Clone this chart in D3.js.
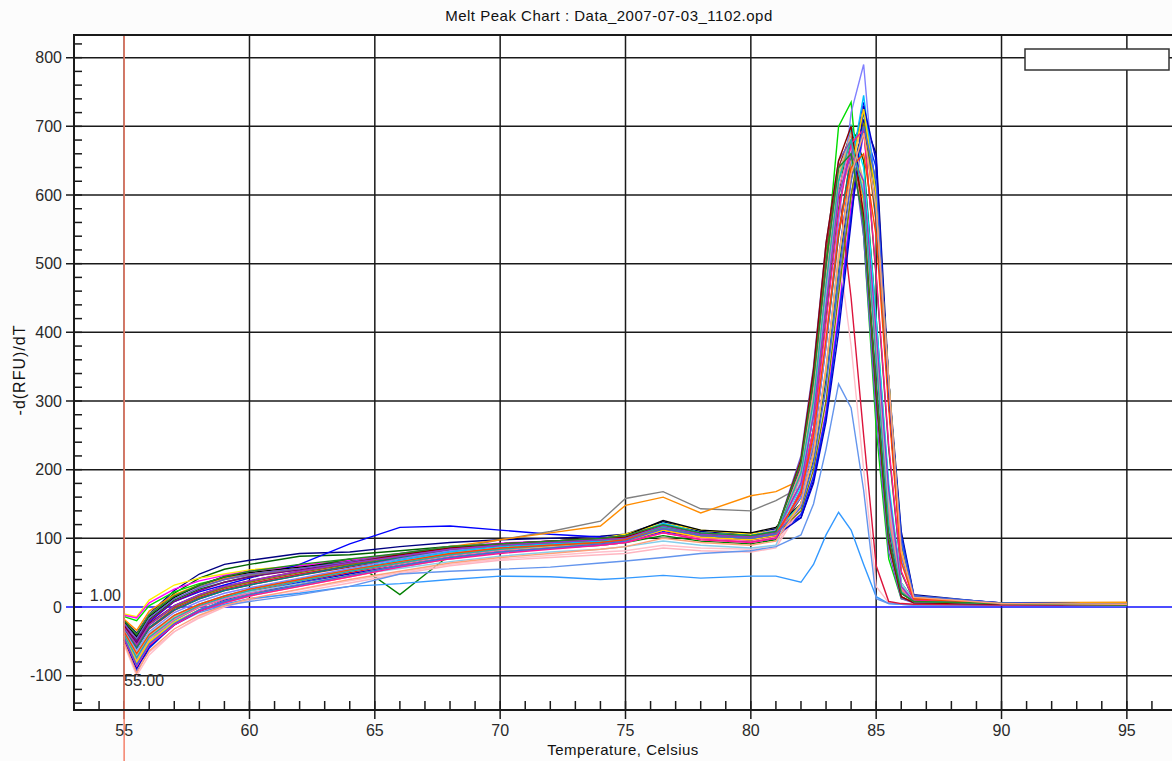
<!DOCTYPE html>
<html lang="en">
<head>
<meta charset="utf-8">
<script src="https://d3js.org/d3.v7.min.js"></script>
<style>
  body { margin: 0; background: #fcfcfc; font-family: "Liberation Sans", Arial, sans-serif; }
  .tick-label { font-size: 16px; fill: #2a2a2a; }
  .axis-title { font-size: 15px; fill: #111; letter-spacing: 0.5px; }
</style>
</head>
<body>
<div id="chart"></div>
<script>
  // temperatures (Celsius) at which each well was sampled
  var temps = [55, 55.5, 56, 57, 58, 59, 60, 62, 64, 66, 68, 70, 72, 74, 75, 76.5, 78, 80, 81,
               82, 82.5, 83, 83.5, 84, 84.5, 85, 85.5, 86, 86.5, 90, 95];

  var wellColors = ["#000080", "#006400", "#ffee00", "#ff00ff", "#00dd00", "#0000ff", "#008000",
                    "#808080", "#ff8c00", "#0033ff", "#00e5ff", "#ff0000", "#ffc0cb", "#ffb6c1",
                    "#ffa500", "#3399ff", "#6495ed", "#a52a2a", "#dc143c", "#000000", "#800080",
                    "#008080", "#fa8072", "#8080ff", "#00bfff", "#ff69b4", "#808000", "#0000cd",
                    "#d2b48c", "#6a5acd", "#87ceeb", "#8b0000", "#ffd700", "#ff1493", "#9932cc",
                    "#20b2aa", "#ff4500", "#4169e1", "#228b22", "#ffa07a"];

  // -d(RFU)/dT per well, one row per well, same order as temps
  var meltPeaks = [
    [-20,-38,-10,24,48,62,68,78,80,88,94,98,100,103,106,124,110,106,114, 130,185,280,420,580,710,660,330,110,18,5,4],
    [-25,-42,-12,20,42,55,62,74,76,82,88,92,95,98,102,120,106,102,110, 180,280,440,600,700,650,420,170,35,10,5,3],
    [-10,-14,10,32,42,48,54,60,68,76,86,92,96,100,106,122,112,106,112, 190,300,470,620,690,610,400,150,30,8,5,3],
    [-12,-16,6,26,38,46,52,60,68,78,88,93,96,98,102,116,102,98,106, 135,190,285,430,580,690,620,300,90,14,6,4],
    [-14,-20,2,22,34,42,47,54,64,76,86,90,92,96,100,118,106,100,108, 200,320,500,700,735,540,260,70,12,8,4,3],
    [-28,-52,-22,8,22,32,42,62,92,116,118,112,106,102,100,108,100,96,102, 150,225,345,510,640,735,610,330,80,15,5,4],
    [-30,-48,-18,10,26,36,44,56,70,18,76,82,86,90,94,104,96,92,98, 170,260,420,580,680,700,480,230,50,10,5,3],
    [-22,-40,-10,16,30,40,46,54,62,70,84,98,110,125,158,168,143,140,155, 175,230,330,470,600,690,620,300,90,16,6,5],
    [-18,-34,-6,18,32,42,48,56,66,76,88,98,108,118,148,160,137,162,168, 185,255,390,540,650,700,560,300,70,12,6,7],
    [-50,-95,-60,-25,-5,10,20,36,50,62,75,82,88,92,95,110,100,95,100, 135,190,280,420,570,700,640,320,105,16,6,4],
    [-45,-80,-50,-20,0,12,22,38,52,66,78,86,92,96,100,118,104,100,106, 175,280,450,620,700,640,420,180,35,8,5,3],
    [-40,-75,-45,-18,0,12,22,38,50,62,76,84,88,94,96,112,100,96,102, 160,240,385,545,655,725,560,305,70,12,5,3],
    [-55,-100,-70,-36,-14,2,12,25,38,50,62,70,75,80,82,90,86,84,90, 150,250,400,520,380,200,30,6,4,4,3,3],
    [-50,-90,-66,-36,-16,0,10,22,35,48,60,68,72,76,78,86,82,80,86, 145,215,330,490,620,730,600,330,80,15,5,4],
    [-45,-85,-55,-25,-5,8,18,32,46,60,72,82,88,96,100,118,106,102,110, 195,310,480,630,680,590,370,130,25,8,6,6],
    [-38,-72,-46,-22,-6,4,12,20,30,34,40,45,44,40,42,46,42,45,45, 36,62,105,138,112,62,15,5,4,3,3,2],
    [-42,-78,-52,-26,-8,2,8,18,30,48,52,55,58,64,67,72,78,82,88, 105,150,230,325,290,170,12,5,4,3,3,2],
    [-35,-60,-32,-5,12,24,32,46,58,70,82,90,94,98,100,114,104,100,110, 210,340,520,640,690,560,300,90,15,6,4,3],
    [-30,-58,-30,-2,14,26,34,48,60,72,84,90,95,98,101,116,104,100,108, 200,330,500,610,450,250,60,8,5,4,3,3],
    [-22,-44,-14,14,32,44,50,58,66,74,84,90,96,100,104,126,112,108,116, 150,215,335,495,625,700,610,330,85,15,5,4],
    [-26,-50,-20,8,24,36,44,54,66,76,86,92,96,100,104,120,108,104,110, 205,320,490,640,660,560,330,110,20,8,5,3],
    [-32,-60,-30,-4,12,24,32,46,60,72,84,90,94,98,102,118,106,102,108, 160,240,380,540,660,720,565,300,70,12,5,3],
    [-44,-82,-52,-24,-6,6,16,30,44,58,70,80,86,92,96,112,102,98,104, 200,315,470,600,650,580,360,130,25,8,5,3],
    [-34,-64,-36,-8,8,20,28,42,56,70,82,90,94,98,102,120,108,104,112, 160,240,380,560,720,790,580,300,70,12,5,3],
    [-36,-70,-40,-12,4,16,26,40,54,68,80,88,92,96,100,122,108,104,110, 150,220,340,500,640,745,600,330,85,15,5,4],
    [-40,-76,-46,-18,0,12,20,34,48,62,74,82,86,90,94,108,100,96,102, 190,300,460,610,670,600,380,140,28,8,5,3],
    [-30,-56,-26,0,16,28,36,50,62,74,84,90,94,98,100,116,104,100,106, 140,200,300,455,600,705,600,300,80,12,6,4],
    [-48,-90,-58,-26,-6,8,18,34,48,60,72,80,86,92,96,114,104,98,104, 130,180,270,400,560,730,650,300,95,15,6,4],
    [-38,-70,-42,-14,2,14,24,38,52,64,76,84,88,94,98,114,104,100,106, 200,310,480,630,690,620,390,150,30,9,5,3],
    [-24,-46,-16,12,28,40,48,56,66,76,86,92,96,100,104,118,106,102,108, 220,350,530,650,680,540,280,80,12,6,4,3],
    [-36,-66,-38,-12,4,14,22,34,46,56,66,74,80,84,88,96,90,86,90, 185,290,450,600,660,610,400,160,35,9,5,3],
    [-28,-54,-24,2,18,30,38,52,64,76,86,92,96,100,102,118,106,100,108, 215,345,530,650,700,570,310,95,15,6,4,3],
    [-42,-80,-50,-22,-4,8,18,32,46,60,72,80,86,92,96,112,102,98,104, 150,220,345,505,635,725,600,330,85,15,5,4],
    [-46,-86,-56,-26,-6,6,16,30,44,58,70,78,84,90,94,108,98,94,100, 170,260,415,575,675,695,485,235,52,10,5,3],
    [-30,-55,-26,2,18,30,38,52,64,74,84,90,94,98,100,118,106,102,108, 180,280,440,600,660,620,400,170,30,8,5,3],
    [-40,-74,-44,-16,2,14,24,38,52,64,76,84,90,94,98,116,104,100,106, 195,300,470,620,680,600,360,120,22,8,5,3],
    [-36,-68,-40,-12,4,16,26,40,54,66,78,86,90,94,98,114,104,100,106, 165,250,390,545,640,660,540,290,65,12,5,3],
    [-44,-84,-54,-24,-4,8,18,32,46,60,72,80,86,92,96,114,104,100,106, 145,210,320,480,620,700,620,320,95,16,6,4],
    [-20,-40,-12,16,32,44,52,62,70,78,88,92,96,100,104,120,108,104,110, 210,330,500,640,660,560,320,100,20,8,5,3],
    [-52,-96,-64,-32,-12,2,12,26,40,52,64,72,78,84,88,100,94,90,96, 150,225,350,510,630,690,580,330,80,14,5,4]
  ];

  var xMajor = [55, 60, 65, 70, 75, 80, 85, 90, 95];
  var yMajor = [-100, 0, 100, 200, 300, 400, 500, 600, 700, 800];
  var xMinor = d3.range(54, 97, 1);
  var yMinor = d3.range(-140, 833, 20);

  var W = 1172, H = 761;
  var plotL = 74, plotT = 35, plotB = 710, plotR = 1177;

  var svg = d3.select("#chart").append("svg")
      .attr("width", W)
      .attr("height", H);

  var x = d3.scaleLinear().domain([53, 97]).range([plotL, plotR]);
  var y = d3.scaleLinear().domain([-150, 833]).range([plotB, plotT]);

  svg.append("rect")
      .attr("x", plotL).attr("y", plotT)
      .attr("width", plotR - plotL).attr("height", plotB - plotT)
      .attr("fill", "#ffffff");

  svg.append("defs").append("clipPath")
      .attr("id", "plotclip")
      .append("rect")
      .attr("x", plotL).attr("y", plotT)
      .attr("width", plotR - plotL).attr("height", plotB - plotT);

  // grid lines
  svg.selectAll(".vgrid")
      .data(xMajor).enter()
      .append("line")
      .attr("x1", function(d) { return x(d); })
      .attr("x2", function(d) { return x(d); })
      .attr("y1", plotT).attr("y2", plotB + 9)
      .attr("stroke", "#1a1a1a").attr("stroke-width", 1.5);

  svg.selectAll(".hgrid")
      .data(yMajor.filter(function(d) { return d !== 0; })).enter()
      .append("line")
      .attr("x1", plotL - 8).attr("x2", plotR)
      .attr("y1", function(d) { return y(d); })
      .attr("y2", function(d) { return y(d); })
      .attr("stroke", "#1a1a1a").attr("stroke-width", 1.5);

  // minor ticks
  svg.selectAll(".xminor")
      .data(xMinor).enter()
      .append("line")
      .attr("x1", function(d) { return x(d); })
      .attr("x2", function(d) { return x(d); })
      .attr("y1", plotB).attr("y2", plotB - 9)
      .attr("stroke", "#1a1a1a").attr("stroke-width", 1.5);

  svg.selectAll(".yminor")
      .data(yMinor).enter()
      .append("line")
      .attr("x1", plotL).attr("x2", plotL + 8)
      .attr("y1", function(d) { return y(d); })
      .attr("y2", function(d) { return y(d); })
      .attr("stroke", "#1a1a1a").attr("stroke-width", 1.5);

  // zero line
  svg.append("line")
      .attr("x1", plotL - 8).attr("x2", plotR)
      .attr("y1", y(0)).attr("y2", y(0))
      .attr("stroke", "#1010ff").attr("stroke-width", 1.5);

  // curves
  var line = d3.line()
      .x(function(d, i) { return x(temps[i]); })
      .y(function(d) { return y(d); });

  svg.append("g")
      .attr("clip-path", "url(#plotclip)")
      .selectAll("path")
      .data(meltPeaks).enter()
      .append("path")
      .attr("d", line)
      .attr("fill", "none")
      .attr("stroke", function(d, i) { return wellColors[i % wellColors.length]; })
      .attr("stroke-width", 1.4);

  // start temperature marker
  svg.append("line")
      .attr("x1", x(55)).attr("x2", x(55))
      .attr("y1", plotT).attr("y2", H)
      .attr("stroke", "#f4806a").attr("stroke-width", 1.5);

  // frame
  svg.append("path")
      .attr("d", "M" + plotR + "," + plotT + "H" + plotL + "V" + plotB + "H" + plotR)
      .attr("fill", "none")
      .attr("stroke", "#1a1a1a").attr("stroke-width", 2);

  // tick labels
  svg.selectAll(".ylab")
      .data(yMajor).enter()
      .append("text")
      .attr("class", "tick-label")
      .attr("x", 62)
      .attr("y", function(d) { return y(d); })
      .attr("dy", "0.36em")
      .attr("text-anchor", "end")
      .text(function(d) { return d; });

  svg.selectAll(".xlab")
      .data(xMajor).enter()
      .append("text")
      .attr("class", "tick-label")
      .attr("x", function(d) { return x(d); })
      .attr("y", 736)
      .attr("text-anchor", "middle")
      .text(function(d) { return d; });

  svg.append("text")
      .attr("class", "tick-label")
      .attr("x", 121).attr("y", 601)
      .attr("text-anchor", "end")
      .text("1.00");

  svg.append("text")
      .attr("class", "tick-label")
      .attr("x", 124).attr("y", 686)
      .text("55.00");

  // titles
  svg.append("text")
      .attr("class", "axis-title")
      .attr("x", 609).attr("y", 21)
      .attr("text-anchor", "middle")
      .text("Melt Peak Chart : Data_2007-07-03_1102.opd");

  svg.append("text")
      .attr("class", "axis-title")
      .attr("x", 623).attr("y", 755)
      .attr("text-anchor", "middle")
      .text("Temperature, Celsius");

  svg.append("text")
      .attr("class", "axis-title")
      .attr("transform", "translate(25,370) rotate(-90)")
      .attr("text-anchor", "middle")
      .style("font-size", "16px")
      .style("letter-spacing", "1px")
      .text("-d(RFU)/dT");

  // empty legend box
  svg.append("rect")
      .attr("x", 1025).attr("y", 49)
      .attr("width", 144).attr("height", 21)
      .attr("fill", "#ffffff")
      .attr("stroke", "#333").attr("stroke-width", 1.5);
</script>
</body>
</html>
